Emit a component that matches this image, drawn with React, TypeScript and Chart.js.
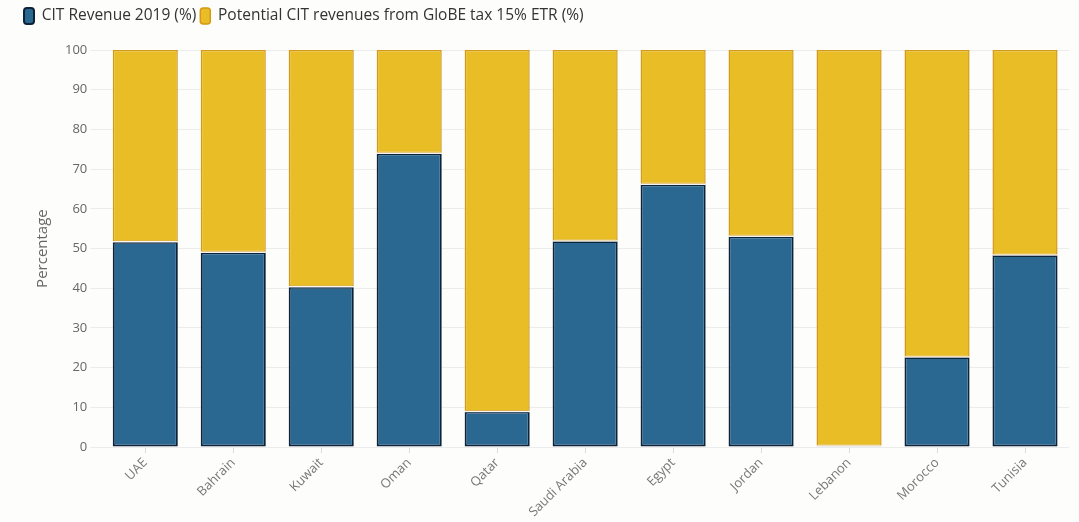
import React, { useEffect, useRef } from "react";
import { Chart, registerables } from "chart.js";

Chart.register(...registerables);

const categories = ["UAE", "Bahrain", "Kuwait", "Oman", "Qatar", "Saudi Arabia", "Egypt", "Jordan", "Lebanon", "Morocco", "Tunisia"];
const citRevenue2019 = [51.7, 49.1, 40.4, 74.0, 9.0, 51.9, 66.2, 53.1, 0.3, 22.7, 48.4];
const globeRevenue = [48.3, 50.9, 59.6, 26.0, 91.0, 48.1, 33.8, 46.9, 99.7, 77.3, 51.6];
const yTicks = [0, 10, 20, 30, 40, 50, 60, 70, 80, 90, 100];

const legendSpacer = {
  id: "legendSpacer",
  beforeInit(chart: any) {
    const orig = chart.legend.fit;
    chart.legend.fit = function () {
      orig.call(this);
      this.height += 16;
    };
  },
};

const stackSeparator = {
  id: "stackSeparator",
  afterDatasetsDraw(chart: any) {
    const meta = chart.getDatasetMeta(0);
    const ctx = chart.ctx;
    ctx.save();
    ctx.strokeStyle = "rgba(255,255,255,0.9)";
    ctx.lineWidth = 1.5;
    meta.data.forEach((bar: any) => {
      const half = bar.width / 2;
      ctx.beginPath();
      ctx.moveTo(bar.x - half, bar.y);
      ctx.lineTo(bar.x + half, bar.y);
      ctx.stroke();
    });
    ctx.restore();
  },
};

export default function App() {
  const ref = useRef<HTMLCanvasElement | null>(null);
  useEffect(() => {
    document.body.style.margin = "0";
    document.body.style.background = "#fdfdfc";
    const ctx = ref.current!;
    const font = "'Open Sans', 'Noto Sans', sans-serif";
    const chart = new Chart(ctx, {
      type: "bar",
      plugins: [legendSpacer, stackSeparator],
      data: {
        labels: categories,
        datasets: [
          {
            label: "CIT Revenue 2019 (%)",
            data: citRevenue2019,
            backgroundColor: "#2b6891",
            borderColor: "#0c2339",
            borderWidth: 2,
            borderSkipped: false,
            barPercentage: 0.74,
            categoryPercentage: 1,
          },
          {
            label: "Potential CIT revenues from GloBE tax 15% ETR (%)",
            data: globeRevenue,
            backgroundColor: "#e9bd26",
            borderColor: "#d49a16",
            borderWidth: 1.5,
            borderSkipped: false,
            barPercentage: 0.74,
            categoryPercentage: 1,
          },
        ],
      },
      options: {
        animation: false,
        responsive: false,
        maintainAspectRatio: false,
        layout: { padding: { left: 20, right: 10, top: 4, bottom: 0 } },
        plugins: {
          tooltip: { enabled: false },
          legend: {
            position: "top",
            align: "start",
            labels: {
              font: { family: font, size: 15.5 },
              color: "#333",
              boxWidth: 10,
              boxHeight: 16,
              padding: 4,
              useBorderRadius: true,
              borderRadius: 3,
            },
          },
        },
        scales: {
          x: {
            stacked: true,
            grid: { drawOnChartArea: false, tickLength: 6, color: "#ddd", offset: false },
            border: { display: false },
            ticks: {
              font: { family: font, size: 13 },
              color: "#777",
              maxRotation: 45,
              minRotation: 45,
              padding: 2,
            },
          },
          y: {
            stacked: true,
            min: 0,
            max: 100,
            afterBuildTicks: (axis: any) => {
              axis.ticks = yTicks.map((v) => ({ value: v }));
            },
            afterFit: (axis: any) => {
              axis.width += 4;
            },
            grid: { color: "#ececec", tickLength: 11 },
            border: { display: false },
            ticks: {
              font: { family: font, size: 13 },
              color: "#666",
              padding: 3,
            },
            title: {
              display: true,
              text: "Percentage",
              font: { family: font, size: 15 },
              color: "#666",
              padding: { top: 14, bottom: 6 },
            },
          },
        },
      },
    });
    return () => chart.destroy();
  }, []);
  return (
    <div style={{ width: 1079, height: 522 }}>
      <canvas ref={ref} width={1079} height={522} style={{ display: "block" }} />
    </div>
  );
}
